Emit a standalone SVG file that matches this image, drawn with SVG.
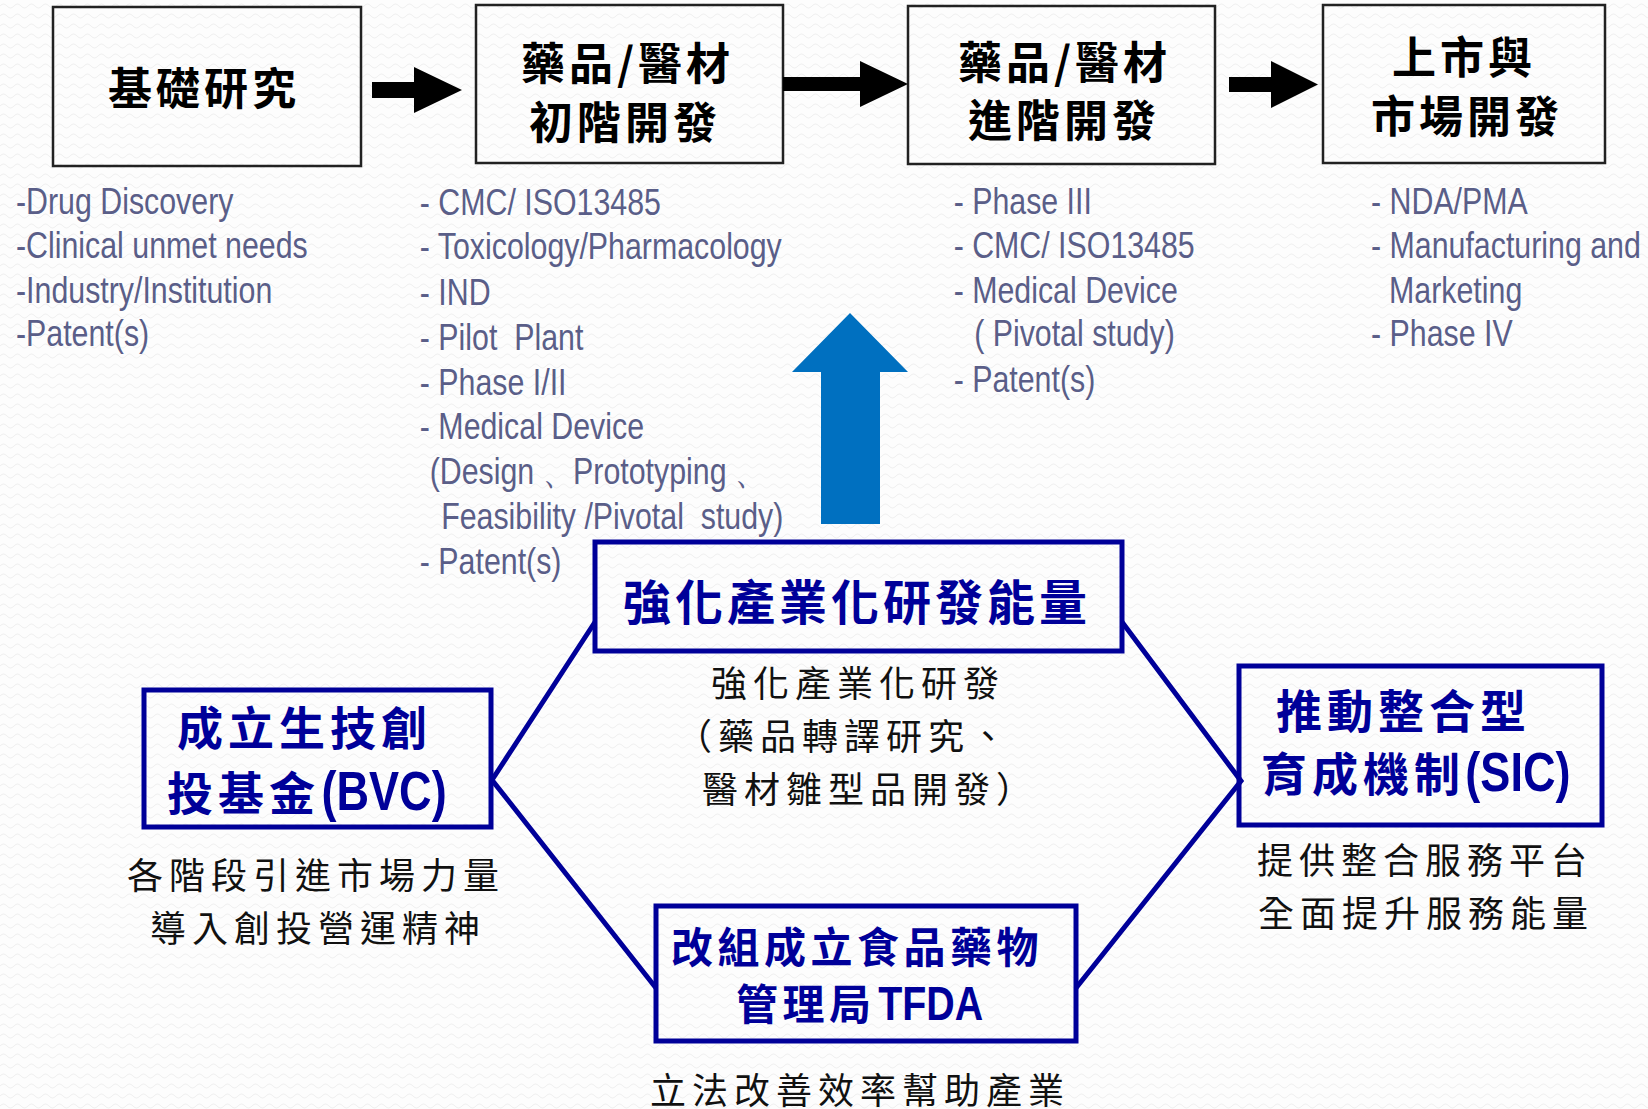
<svg xmlns="http://www.w3.org/2000/svg" width="1648" height="1109" viewBox="0 0 1648 1109">
<defs>
<pattern id="bg" width="14" height="10" patternUnits="userSpaceOnUse">
<rect width="14" height="10" fill="#fdfdfd"/>
<path d="M0 6 Q3.5 2 7 6 T14 6" fill="none" stroke="#efefef" stroke-width="1"/>
</pattern>
<style>
.stage{fill:none;stroke:#222;stroke-width:2.5}
.stageT{font-family:"Noto Sans CJK TC","Noto Sans CJK SC",sans-serif;font-size:44px;font-weight:700;fill:#000;letter-spacing:4px}
.list{font-family:"Liberation Sans",Arial,sans-serif;font-size:37px;fill:#5a5e88;white-space:pre}
.bbox{fill:none;stroke:#000099;stroke-width:5}
.bT{font-family:"Noto Sans CJK TC","Noto Sans CJK SC",sans-serif;font-weight:700;fill:#000099}
.lat{font-family:"Liberation Sans",Arial,sans-serif;font-weight:700;fill:#000099}
.desc{font-family:"Noto Sans CJK TC","Noto Sans CJK SC",sans-serif;font-size:36px;font-weight:400;fill:#111;letter-spacing:6px}
.conn{stroke:#000099;stroke-width:5;fill:none;stroke-linejoin:miter}
</style>
</defs>
<rect width="1648" height="1109" fill="url(#bg)"/>

<g id="node-basic">
<rect class="stage" x="53" y="7" width="308" height="159"/>
<text class="stageT" x="108" y="105">基礎研究</text>
</g>
<g id="node-early">
<rect class="stage" x="476" y="5" width="307" height="158"/>
<text class="stageT" x="521" y="80">藥品/醫材</text>
<text class="stageT" x="529" y="139">初階開發</text>
</g>
<g id="node-advanced">
<rect class="stage" x="908" y="6" width="307" height="158"/>
<text class="stageT" x="958" y="79">藥品/醫材</text>
<text class="stageT" x="968" y="137">進階開發</text>
</g>
<g id="node-market">
<rect class="stage" x="1323" y="5" width="282" height="158"/>
<text class="stageT" x="1392" y="74">上市與</text>
<text class="stageT" x="1371" y="133">市場開發</text>
</g>

<g id="list-basic" class="list" transform="scale(0.82 1)">
<text x="19.5" y="214">-Drug Discovery</text>
<text x="19.5" y="258">-Clinical unmet needs</text>
<text x="19.5" y="303">-Industry/Institution</text>
<text x="19.5" y="346">-Patent(s)</text>
</g>
<g id="list-early" class="list" transform="scale(0.82 1)">
<text x="512" y="215">- CMC/ ISO13485</text>
<text x="512" y="259">- Toxicology/Pharmacology</text>
<text x="512" y="305">- IND</text>
<text x="512" y="350" xml:space="preserve">- Pilot  Plant</text>
<text x="512" y="395">- Phase I/II</text>
<text x="512" y="439">- Medical Device</text>
<text x="524" y="484" xml:space="preserve">(Design 、Prototyping 、</text>
<text x="538" y="529" xml:space="preserve">Feasibility /Pivotal  study)</text>
<text x="512" y="574">- Patent(s)</text>
</g>
<g id="list-advanced" class="list" transform="scale(0.82 1)">
<text x="1163" y="214">- Phase III</text>
<text x="1163" y="258">- CMC/ ISO13485</text>
<text x="1163" y="303">- Medical Device</text>
<text x="1188" y="346">( Pivotal study)</text>
<text x="1163" y="392">- Patent(s)</text>
</g>
<g id="list-market" class="list" transform="scale(0.82 1)">
<text x="1672" y="214">- NDA/PMA</text>
<text x="1672" y="258">- Manufacturing and</text>
<text x="1694" y="303">Marketing</text>
<text x="1672" y="346">- Phase IV</text>
</g>

<g id="connectors">
<polygon points="372,82 414,82 414,67 462,90 414,113 414,98 372,98" fill="#000"/>
<polygon points="783,77 860,77 860,61 908,84 860,107 860,91 783,91" fill="#000"/>
<polygon points="1229,77 1271,77 1271,61 1318,84.5 1271,108 1271,92 1229,92" fill="#000"/>
<polygon points="850,313 908,372 880,372 880,524 821,524 821,372 792,372" fill="#0070c0"/>
<polyline class="conn" points="595,622 492,780 656,988"/>
<polyline class="conn" points="1122,622 1241,781 1076,988"/>
</g>

<g id="node-rd">
<rect class="bbox" x="595" y="542" width="527" height="109"/>
<text class="bT" x="623" y="620" font-size="48" letter-spacing="4">強化產業化研發能量</text>
<g class="desc">
<text x="711" y="697">強化產業化研發</text>
<text x="676" y="750">（藥品轉譯研究、</text>
<text x="702" y="803">醫材雛型品開發）</text>
</g>
</g>

<g id="node-bvc">
<rect class="bbox" x="144" y="690" width="347" height="137"/>
<text class="bT" x="177" y="745" font-size="46" letter-spacing="5">成立生技創</text>
<text class="bT" x="167" y="810" font-size="46" letter-spacing="5">投基金</text>
<text class="lat" transform="scale(0.82 1)" x="392" y="810" font-size="55">(BVC)</text>
<g class="desc">
<text x="127" y="889">各階段引進市場力量</text>
<text x="150" y="942">導入創投營運精神</text>
</g>
</g>

<g id="node-sic">
<rect class="bbox" x="1239" y="666" width="363" height="159"/>
<text class="bT" x="1276" y="728" font-size="46" letter-spacing="5">推動整合型</text>
<text class="bT" x="1261" y="791" font-size="46" letter-spacing="5">育成機制</text>
<text class="lat" transform="scale(0.82 1)" x="1787" y="791" font-size="55">(SIC)</text>
<g class="desc">
<text x="1257" y="874">提供整合服務平台</text>
<text x="1258" y="927">全面提升服務能量</text>
</g>
</g>

<g id="node-tfda">
<rect class="bbox" x="656" y="906" width="420" height="135"/>
<text class="bT" x="671" y="963" font-size="42" letter-spacing="4.5">改組成立食品藥物</text>
<text class="bT" x="736" y="1020" font-size="42" letter-spacing="4.5">管理局</text>
<text class="lat" transform="scale(0.82 1)" x="1071" y="1020" font-size="48">TFDA</text>
<g class="desc">
<text x="650" y="1104">立法改善效率幫助產業</text>
</g>
</g>
</svg>
